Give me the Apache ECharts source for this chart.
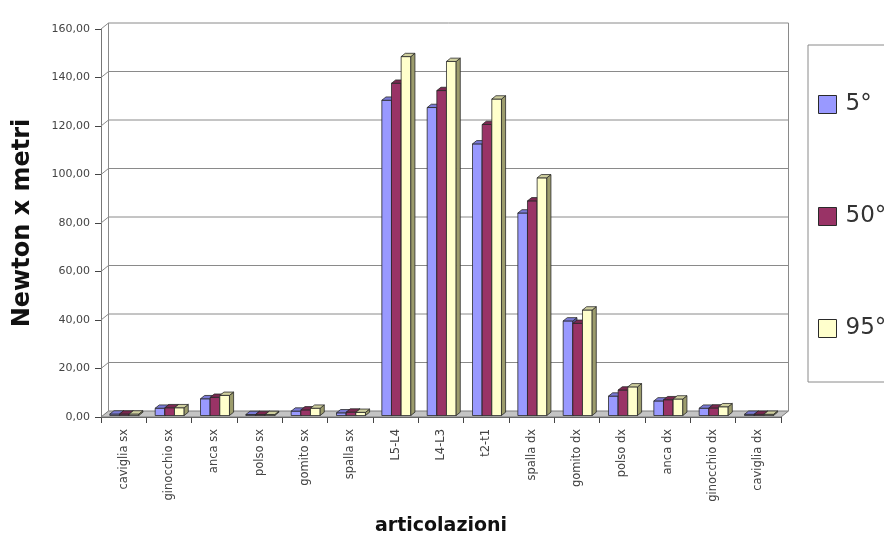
<!DOCTYPE html>
<html>
<head>
<meta charset="utf-8">
<script src="https://cdn.jsdelivr.net/npm/echarts@6/dist/echarts.min.js"></script>
<style>
  html, body { margin: 0; padding: 0; background: #fff; }
  #chart { width: 884px; height: 541px; }
</style>
</head>
<body>
<div id="chart"></div>
<script>
// Joints (x axis categories)
const categories = ['caviglia sx', 'ginocchio sx', 'anca sx', 'polso sx', 'gomito sx', 'spalla sx',
  'L5-L4', 'L4-L3', 't2-t1', 'spalla dx', 'gomito dx', 'polso dx', 'anca dx', 'ginocchio dx', 'caviglia dx'];

// Torque (Newton x metri) per posture angle
const seriesNames = ['5°', '50°', '95°'];
const values5 = [0.6, 3.0, 6.9, 0.4, 1.8, 1.1, 130, 127, 112, 83.5, 39, 8, 6, 3, 0.5];
const values50 = [0.6, 3.2, 7.5, 0.4, 2.3, 1.4, 137, 134, 120, 88.5, 38, 10.5, 6.5, 3.1, 0.5];
const values95 = [0.6, 3.2, 8.3, 0.4, 3.0, 1.3, 148, 146, 130.5, 98, 43.5, 11.8, 6.8, 3.6, 0.5];

// Value axis ticks
const yTicks = [0, 20, 40, 60, 80, 100, 120, 140, 160];

// Face colours: front, side, top
const palette = [
  { front: '#9999FF', side: '#5C5CA8', top: '#7A7AD6' },
  { front: '#993366', side: '#5E1F3E', top: '#7A2850' },
  { front: '#FFFFCC', side: '#9C9C6C', top: '#CFCF9E' }
];

// Depth of the box (back wall offset) and of each column
const wallDepth = [7.5, -6];
const barFront = 0.25;   // fraction of depth where the column front sits
const barDepth = 0.55;   // fraction of depth taken by a column
const nCat = categories.length;

function renderWall(params, api) {
  const v = api.value(1);
  const bw = api.size([1, 0])[0];
  const p0 = api.coord([0, v]);
  const p1 = api.coord([nCat - 1, v]);
  const xl = p0[0] - bw / 2;
  const xr = p1[0] + bw / 2;
  const y = p0[1];
  const dx = wallDepth[0], dy = wallDepth[1];
  const lineStyle = { stroke: '#8a8a8a', lineWidth: 1, fill: null };
  const children = [];
  if (v === yTicks[0]) {
    const yTop = api.coord([0, yTicks[yTicks.length - 1]])[1];
    children.push({
      type: 'polygon',
      shape: { points: [[xl, y], [xr, y], [xr + dx, y + dy], [xl + dx, y + dy]] },
      style: { fill: '#c4c4c4', stroke: '#7a7a7a', lineWidth: 1 }
    });
    children.push({ type: 'line', shape: { x1: xl + dx, y1: y + dy, x2: xl + dx, y2: yTop + dy }, style: lineStyle });
    children.push({ type: 'line', shape: { x1: xr + dx, y1: y + dy, x2: xr + dx, y2: yTop + dy }, style: lineStyle });
  } else {
    children.push({ type: 'line', shape: { x1: xl, y1: y, x2: xl + dx, y2: y + dy }, style: lineStyle });
    children.push({ type: 'line', shape: { x1: xl + dx, y1: y + dy, x2: xr + dx, y2: y + dy }, style: lineStyle });
  }
  return { type: 'group', children: children };
}

function makeBarRenderer(k) {
  const c = palette[k];
  return function (params, api) {
    const idx = api.value(0);
    const v = api.value(1);
    const bw = api.size([1, 0])[0];
    const base = api.coord([idx, 0]);
    const top = api.coord([idx, v]);
    const w = bw * 0.213;
    const x0 = base[0] - bw / 2 + bw * 0.195 + k * w;
    const shY = wallDepth[1] * barFront;
    const yb = base[1] + shY;
    const yt = top[1] + shY;
    const ddx = wallDepth[0] * barDepth, ddy = wallDepth[1] * barDepth;
    const edge = { stroke: '#2a2a2a', lineWidth: 0.8 };
    return {
      type: 'group',
      children: [
        {
          type: 'rect',
          shape: { x: x0, y: yt, width: w, height: yb - yt },
          style: Object.assign({ fill: c.front }, edge)
        },
        {
          type: 'polygon',
          shape: { points: [[x0 + w, yb], [x0 + w + ddx, yb + ddy], [x0 + w + ddx, yt + ddy], [x0 + w, yt]] },
          style: Object.assign({ fill: c.side }, edge)
        },
        {
          type: 'polygon',
          shape: { points: [[x0, yt], [x0 + ddx, yt + ddy], [x0 + w + ddx, yt + ddy], [x0 + w, yt]] },
          style: Object.assign({ fill: c.top }, edge)
        }
      ]
    };
  };
}

const allValues = [values5, values50, values95];
const barSeries = allValues.map(function (vals, k) {
  return {
    name: seriesNames[k],
    type: 'custom',
    clip: false,
    silent: true,
    itemStyle: { color: palette[k].front, borderColor: '#2a2a2a', borderWidth: 1 },
    renderItem: makeBarRenderer(k),
    encode: { x: 0, y: 1 },
    data: vals.map(function (v, i) { return [i, v]; })
  };
});

const chart = echarts.init(document.getElementById('chart'), null, { renderer: 'canvas' });
chart.setOption({
  animation: false,
  backgroundColor: '#ffffff',
  textStyle: { fontFamily: 'DejaVu Sans' },
  grid: { left: 101, right: 103, top: 29, bottom: 122 },
  legend: {
    orient: 'vertical',
    left: 808,
    top: 45,
    padding: [48, 80, 42, 10],
    itemGap: 89,
    itemWidth: 18,
    itemHeight: 18,
    icon: 'rect',
    borderColor: '#8a8a8a',
    borderWidth: 1,
    borderRadius: 0,
    itemStyle: { borderColor: '#2a2a2a', borderWidth: 1 },
    textStyle: { fontFamily: 'DejaVu Sans', fontSize: 23, lineHeight: 23, color: '#333', padding: [0, 0, 0, 4] },
    data: seriesNames
  },
  xAxis: {
    type: 'category',
    data: categories,
    name: 'articolazioni',
    nameLocation: 'middle',
    nameGap: 100,
    nameTextStyle: { fontFamily: 'DejaVu Sans', fontWeight: 'bold', fontSize: 19, color: '#111' },
    axisLine: { lineStyle: { color: '#555', width: 1 } },
    axisTick: { show: true, length: 6, lineStyle: { color: '#444' } },
    axisLabel: { rotate: 90, margin: 12, fontSize: 11.5, color: '#444', interval: 0 },
    splitLine: { show: false }
  },
  yAxis: {
    type: 'value',
    min: yTicks[0],
    max: yTicks[yTicks.length - 1],
    interval: 20,
    name: 'Newton x metri',
    nameLocation: 'middle',
    nameGap: 66,
    nameTextStyle: { fontFamily: 'DejaVu Sans', fontWeight: 'bold', fontSize: 24, color: '#111' },
    axisLine: { show: true, lineStyle: { color: '#777', width: 1 } },
    axisTick: { show: true, length: 6, lineStyle: { color: '#444' } },
    axisLabel: {
      margin: 11,
      fontSize: 11,
      color: '#444',
      formatter: function (v) { return v.toFixed(2).replace('.', ','); }
    },
    splitLine: { show: false }
  },
  series: [
    {
      name: 'pareti',
      type: 'custom',
      clip: false,
      silent: true,
      z: 1,
      renderItem: renderWall,
      encode: { x: 0, y: 1 },
      data: yTicks.map(function (v) { return [0, v]; })
    }
  ].concat(barSeries)
});
</script>
</body>
</html>
